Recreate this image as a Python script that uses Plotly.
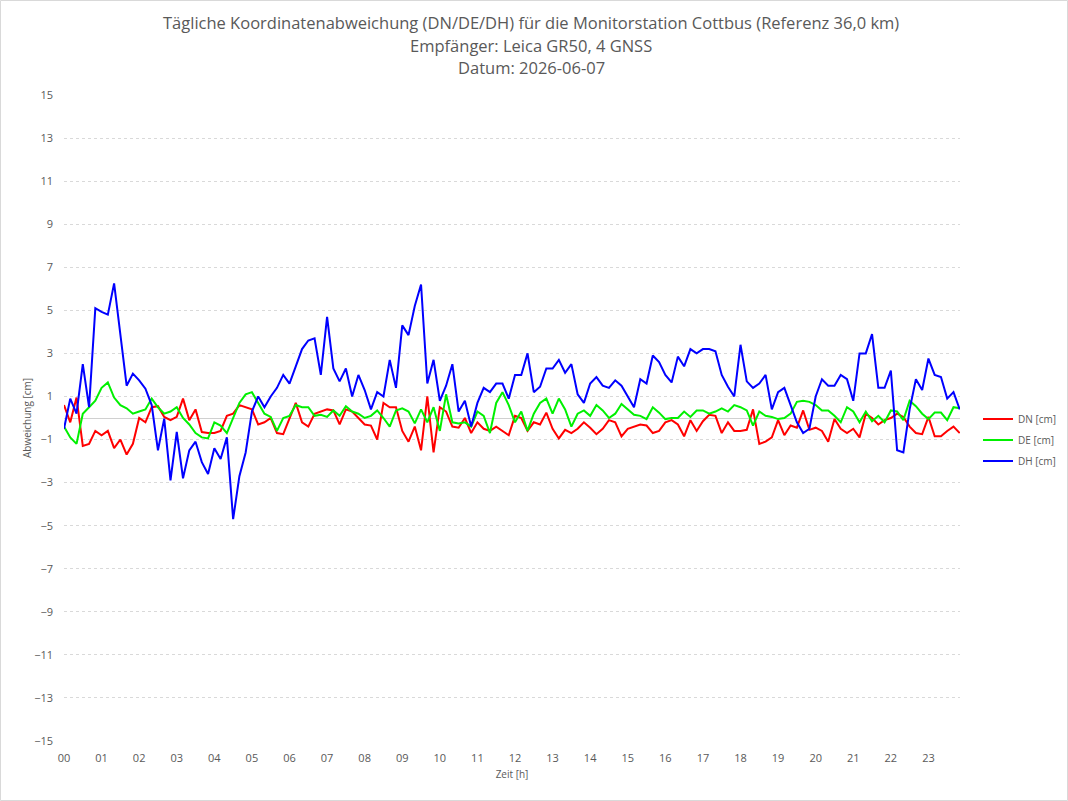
import plotly.graph_objects as go

# time in hours, 10-minute steps
steps = 144
hours = [i / 6 for i in range(steps)]

dn = [0.6, -0.2, 0.95, -1.3, -1.2, -0.6, -0.8, -0.6, -1.4, -1.0, -1.7, -1.2,
      0.0, -0.2, 0.5, 0.55, 0.05, -0.1, 0.05, 0.9, -0.1, 0.4, -0.65, -0.7,
      -0.7, -0.6, 0.1, 0.2, 0.6, 0.5, 0.4, -0.3, -0.2, 0.0, -0.7, -0.75,
      0.0, 0.7, -0.2, -0.4, 0.2, 0.3, 0.4, 0.35, -0.3, 0.4, 0.3,
      0.0, -0.3, -0.35, -1.0, 0.7, 0.5, 0.5, -0.6, -1.1, -0.4, -1.5, 1.0,
      -1.6, 0.5, 0.3, -0.4, -0.45, 0.0, -0.7, -0.2, -0.5, -0.6, -0.4,
      -0.6, -0.8, 0.1, 0.0, -0.6, -0.2, -0.3, 0.25, -0.5, -0.95, -0.55, -0.7,
      -0.5, -0.2, -0.45, -0.75, -0.5, -0.1, -0.2, -0.85, -0.5, -0.4, -0.3,
      -0.35, -0.7, -0.6, -0.2, -0.1, -0.3, -0.85, -0.1, -0.6, -0.15, 0.15, 0.1,
      -0.7, -0.2, -0.6, -0.6, -0.55, 0.4, -1.2, -1.1, -0.9, -0.1, -0.8,
      -0.35, -0.45, 0.35, -0.55, -0.45, -0.6, -1.1, -0.05, -0.5, -0.7, -0.5,
      -0.9, 0.2, 0.0, -0.3, -0.1, 0.0, 0.2, 0.05, -0.4, -0.7, -0.75, 0.05,
      -0.85, -0.85, -0.6, -0.4, -0.7]

de = [-0.4, -0.9, -1.2, 0.2, 0.5, 0.8, 1.4, 1.65, 0.95, 0.6, 0.45, 0.2,
      0.3, 0.4, 0.9, 0.5, 0.2, 0.3, 0.5, 0.0, -0.3, -0.7, -0.9, -0.95,
      -0.2, -0.35, -0.7, -0.03, 0.7, 1.1, 1.2, 0.7, 0.2, 0.05, -0.6, 0.0,
      0.1, 0.6, 0.5, 0.5, 0.1, 0.15, 0.05, 0.35, 0.1, 0.55, 0.3,
      0.2, 0.0, 0.1, 0.35, 0.0, -0.4, 0.35, 0.45, 0.3, -0.25, 0.4, -0.2,
      0.5, -0.6, 1.1, -0.2, -0.25, -0.2, -0.4, 0.3, 0.1, -0.7, 0.7,
      1.2, 0.6, -0.2, 0.3, -0.6, 0.2, 0.7, 0.9, 0.2, 0.9, 0.4, -0.4,
      0.2, 0.35, 0.1, 0.6, 0.35, 0.0, 0.2, 0.65, 0.4, 0.15, 0.1,
      -0.05, 0.5, 0.25, -0.05, 0.0, 0.0, 0.3, 0.05, 0.35, 0.35, 0.2, 0.3,
      0.45, 0.3, 0.6, 0.5, 0.35, -0.35, 0.3, 0.1, 0.05, -0.05, 0.0,
      0.2, 0.75, 0.8, 0.75, 0.6, 0.35, 0.35, 0.1, -0.2, 0.5, 0.3,
      -0.2, 0.3, -0.15, 0.1, -0.2, 0.35, 0.3, -0.1, 0.8, 0.55, 0.2, -0.05,
      0.25, 0.25, -0.1, 0.5, 0.45]

dh = [-0.5, 0.9, 0.2, 2.5, 0.5, 5.1, 4.93, 4.8, 6.25, 4.0, 1.5, 2.06,
      1.75, 1.36, 0.6, -1.5, -0.03, -2.9, -0.65, -2.8, -1.5, -1.1, -2.05, -2.6,
      -1.4, -1.9, -0.9, -4.7, -2.7, -1.6, 0.3, 1.0, 0.5, 1.0, 1.4, 2.0,
      1.6, 2.4, 3.2, 3.6, 3.7, 2.0, 4.7, 2.3, 1.7, 2.3, 1.0,
      2.0, 1.3, 0.4, 1.2, 1.0, 2.7, 1.4, 4.3, 3.85, 5.2, 6.2, 1.6,
      2.7, 0.8, 1.5, 2.5, 0.3, 0.8, -0.4, 0.7, 1.4, 1.2, 1.6,
      1.6, 0.9, 2.0, 2.0, 3.0, 1.2, 1.45, 2.3, 2.3, 2.7, 2.1, 2.5,
      1.1, 0.7, 1.6, 1.9, 1.5, 1.4, 1.75, 1.5, 1.0, 0.5, 1.8,
      1.6, 2.9, 2.6, 2.0, 1.65, 2.85, 2.4, 3.2, 3.0, 3.2, 3.2, 3.1,
      2.0, 1.45, 1.0, 3.4, 1.7, 1.4, 1.6, 2.0, 0.4, 1.2, 1.4,
      0.6, -0.2, -0.7, -0.5, 1.0, 1.8, 1.5, 1.5, 2.0, 1.8, 0.8,
      3.0, 3.0, 3.9, 1.4, 1.4, 2.2, -1.5, -1.6, 0.4, 1.8, 1.3, 2.76,
      2.0, 1.9, 0.9, 1.2, 0.4]

hour_ticks = list(range(24))
hour_labels = [f"{h:02d}" for h in hour_ticks]
y_ticks = list(range(-15, 16, 2))

title_lines = [
    "Tägliche Koordinatenabweichung (DN/DE/DH) für die Monitorstation Cottbus (Referenz 36,0 km)",
    "Empfänger: Leica GR50, 4 GNSS",
    "Datum: 2026-06-07",
]

series = [("DN [cm]", dn, "#FF0000"), ("DE [cm]", de, "#00F000"), ("DH [cm]", dh, "#0000FF")]

fig = go.Figure()
for name, vals, col in series:
    fig.add_trace(go.Scatter(x=hours, y=vals, mode="lines", name=name,
                             line=dict(color=col, width=2), legendgroup=name))

gray = "#595959"
FONT = "Open Sans, Liberation Sans, sans-serif"
W, H = 1068, 801
ml, mr, mt, mb = 64, 108, 95, 60
pw, ph = W - ml - mr, H - mt - mb


def py(p):
    """pixel row -> paper y"""
    return (H - mb - p) / ph


def px(p):
    return (p - ml) / pw


fig.update_layout(
    width=W, height=H, autosize=False,
    margin=dict(l=ml, r=mr, t=mt, b=mb, pad=0, autoexpand=False),
    paper_bgcolor="white", plot_bgcolor="white",
    font=dict(family=FONT, color=gray, size=11),
    xaxis=dict(range=[0, 23.84], tickvals=hour_ticks, ticktext=hour_labels,
               showgrid=False, zeroline=False, showline=False, ticks="",
               ticklabelstandoff=9,
               tickfont=dict(size=11, color=gray),
               title=dict(text="Zeit [h]", font=dict(size=10, color=gray), standoff=6)),
    yaxis=dict(range=[-15, 15], tickvals=y_ticks, showgrid=True,
               gridcolor="#D9D9D9", griddash="dot", gridwidth=1,
               zeroline=True, zerolinecolor="#D0D0D0", zerolinewidth=1,
               showline=False, ticks="", ticklabelstandoff=10,
               tickfont=dict(size=11, color=gray),
               title=dict(text="Abweichung [cm]", font=dict(size=10, color=gray), standoff=0)),
    legend=dict(x=px(978), xanchor="left", y=py(440), yanchor="middle",
                font=dict(size=10, color=gray), tracegroupgap=2,
                bgcolor="rgba(0,0,0,0)", itemwidth=30),
    showlegend=True,
)

for i, (txt, yy) in enumerate(zip(title_lines, [22, 45, 68])):
    fig.add_annotation(text=txt, xref="paper", yref="paper", x=px(531), y=py(yy),
                       xanchor="center", yanchor="middle", showarrow=False,
                       font=dict(size=16.5, color=gray, family=FONT))

# outer border of the chart
fig.add_shape(type="rect", xref="paper", yref="paper",
              x0=px(0.5), x1=px(W - 0.5), y0=py(H - 0.5), y1=py(0.5),
              line=dict(color="#D9D9D9", width=1), fillcolor="rgba(0,0,0,0)", layer="below")

fig.write_html("out.html")
